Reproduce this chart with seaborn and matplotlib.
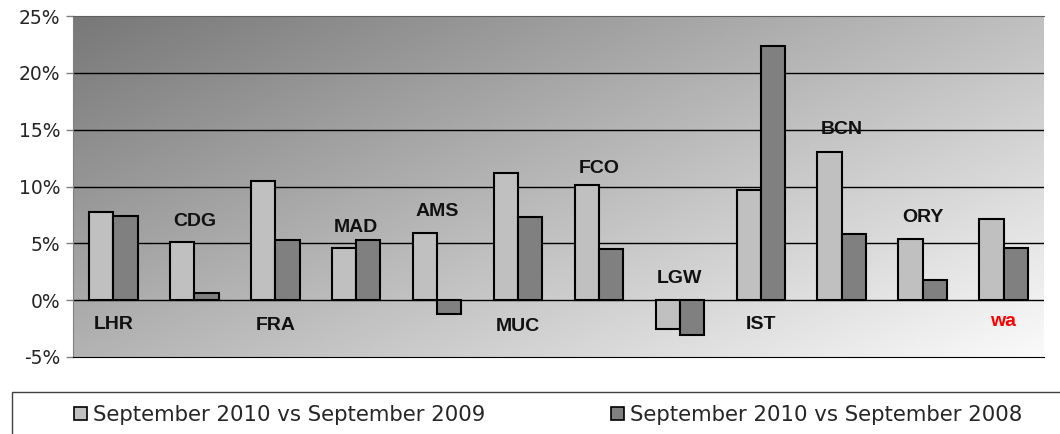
import matplotlib
matplotlib.use("Agg")
import matplotlib.pyplot as plt
import numpy as np
import pandas as pd
import seaborn as sns
from matplotlib.patches import Patch, Rectangle

# -------------------------------------------------------------------
# data
# -------------------------------------------------------------------
airports = ["LHR", "CDG", "FRA", "MAD", "AMS", "MUC", "FCO", "LGW", "IST", "BCN", "ORY", "wa"]
vs_2009 = [7.8, 5.1, 10.5, 4.6, 5.9, 11.2, 10.1, -2.5, 9.7, 13.0, 5.4, 7.1]
vs_2008 = [7.4, 0.6, 5.3, 5.3, -1.2, 7.3, 4.5, -3.1, 22.4, 5.8, 1.8, 4.6]
series = ["September 2010 vs September 2009", "September 2010 vs September 2008"]

# where the airport names sit (in % units)
label_y = [-2.1, 6.9, -2.2, 6.4, 7.8, -2.3, 11.6, 1.9, -2.1, 15.0, 7.3, -1.9]

df = pd.DataFrame({
    "airport": airports * 2,
    "value": vs_2009 + vs_2008,
    "series": [series[0]] * len(airports) + [series[1]] * len(airports),
})

sns.set_style("white")
plt.rcParams["font.family"] = ["DejaVu Sans"]

W, H = 1060, 434
fig = plt.figure(figsize=(W / 100, H / 100), dpi=100)
ax = fig.add_axes([73 / W, 1 - 357 / H, (1044 - 73) / W, (357 - 16) / H])

# gradient background, dark top-left -> light bottom-right
gx, gy = np.meshgrid(np.linspace(0, 1, 300), np.linspace(0, 1, 120))
t = 0.55 * gx + 0.45 * gy
grad = 0.47 + (0.98 - 0.47) * t
ax.imshow(grad, cmap="gray", vmin=0, vmax=1, extent=[0, 1, 0, 1], origin="upper",
          transform=ax.transAxes, aspect="auto", zorder=0)

sns.barplot(data=df, x="airport", y="value", hue="series", order=airports,
            hue_order=series, palette=["#c0c0c0", "#808080"], width=0.6,
            edgecolor="black", linewidth=1.5, ax=ax, legend=False, zorder=3)

ax.set_ylim(-5, 25)
ax.set_xlim(-0.5, len(airports) - 0.5)
ax.set_yticks(range(-5, 26, 5))
ax.set_yticklabels([f"{v}%" for v in range(-5, 26, 5)], fontsize=13.5)
ax.set_xticks([])
ax.set_xlabel("")
ax.set_ylabel("")
for v in range(0, 21, 5):
    ax.axhline(v, color="black", lw=1, zorder=1)
ax.tick_params(axis="y", length=5, width=1, color="#808080", pad=4, left=True)

ax.spines["left"].set_color("#808080")
ax.spines["top"].set_color("#606060")
ax.spines["bottom"].set_color("black")
ax.spines["right"].set_visible(False)

for i, (name, y) in enumerate(zip(airports, label_y)):
    ax.text(i, y, name, ha="center", va="center", fontsize=14, fontweight="bold",
            family="Liberation Sans", color="red" if name == "wa" else "#111111", zorder=4)

# legend box runs off the right/bottom edge as in the source
fig.patches.append(Rectangle((12 / W, -0.1), 1.1, 0.1 + 42 / H, transform=fig.transFigure,
                             facecolor="white", edgecolor="#404040", lw=1))
handles = [Patch(facecolor=c, edgecolor="black", linewidth=1.2)
           for c in ["#c0c0c0", "#808080"]]
fig.legend(handles, series, loc="center left", ncol=2,
           bbox_to_anchor=(74 / W, 1 - 415 / H), fontsize=15.3, frameon=False,
           handlelength=0.6, handleheight=0.6, handletextpad=0.3,
           columnspacing=5.9, borderpad=0, borderaxespad=0)

fig.savefig("out.png", dpi=100)
